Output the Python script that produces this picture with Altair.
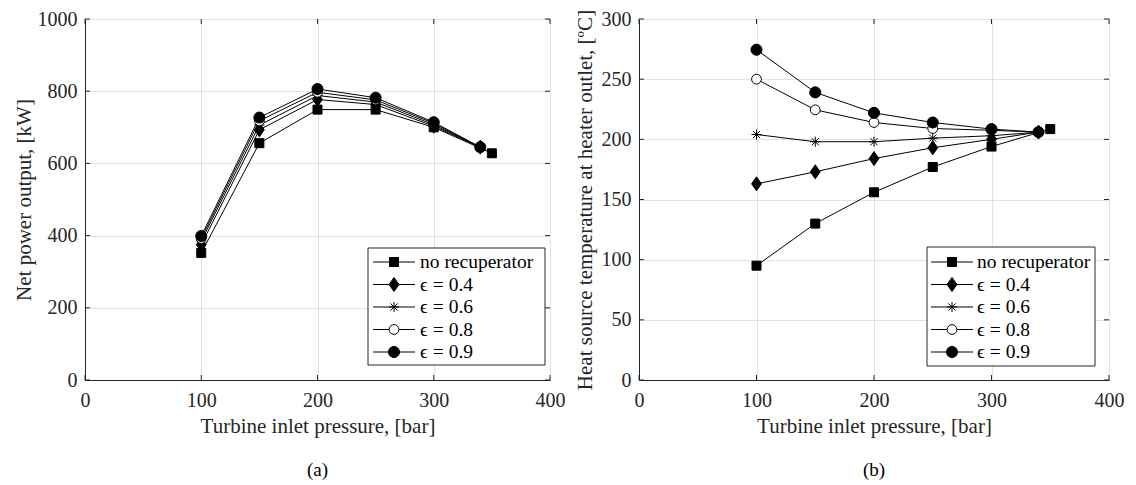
import altair as alt
import pandas as pd

# ---------------- data ----------------
SERIES = ["no recuperator", "ϵ = 0.4", "ϵ = 0.6", "ϵ = 0.8", "ϵ = 0.9"]
P_NOREC = [100, 150, 200, 250, 300, 350]
P_EPS = [100, 150, 200, 250, 300, 340]

POWER_NOREC = [352, 656, 749, 749, 700, 628]
POWER_04 = [375, 693, 777, 763, 703, 645]
POWER_06 = [385, 706, 788, 770, 707, 645]
POWER_08 = [392, 718, 797, 776, 711, 645]
POWER_09 = [399, 727, 806, 782, 714, 645]

TEMP_NOREC = [95, 130, 156, 177, 194, 208.5]
TEMP_04 = [163, 173, 184, 193, 200, 206]
TEMP_06 = [204, 198, 198, 201, 203, 206]
TEMP_08 = [250, 224.5, 214, 209, 207.5, 206]
TEMP_09 = [274.5, 239, 222, 214, 208.5, 206]

X_TICKS = [0, 100, 200, 300, 400]
POWER_TICKS = [0, 200, 400, 600, 800, 1000]
TEMP_TICKS = [0, 50, 100, 150, 200, 250, 300]

FONT = "Liberation Serif"
DARK = "#262626"

# marker shapes (unit square paths, drawn at a common size)
SQ = 0.643
SHAPE_RANGE = [
    f"M{-SQ},{-SQ}L{SQ},{-SQ}L{SQ},{SQ}L{-SQ},{SQ}Z",
    "M0,-1L0.7,0L0,1L-0.7,0Z",
    "M0,-0.72L0,0.72M-0.72,0L0.72,0M-0.51,-0.51L0.51,0.51M-0.51,0.51L0.51,-0.51",
    "M0.7,0A0.7,0.7,0,1,1,-0.7,0A0.7,0.7,0,1,1,0.7,0Z",
    "M0.79,0A0.79,0.79,0,1,1,-0.79,0A0.79,0.79,0,1,1,0.79,0Z",
]
FILL_RANGE = ["black", "black", "black", "white", "black"]
MARK_SIZE = 196


def long_df(cols):
    rows = []
    for name, xs, ys in cols:
        for xv, yv in zip(xs, ys):
            rows.append({"series": name, "x": xv, "y": yv})
    return pd.DataFrame(rows)


power_df = long_df([
    (SERIES[0], P_NOREC, POWER_NOREC),
    (SERIES[1], P_EPS, POWER_04),
    (SERIES[2], P_EPS, POWER_06),
    (SERIES[3], P_EPS, POWER_08),
    (SERIES[4], P_EPS, POWER_09),
])
temp_df = long_df([
    (SERIES[0], P_NOREC, TEMP_NOREC),
    (SERIES[1], P_EPS, TEMP_04),
    (SERIES[2], P_EPS, TEMP_06),
    (SERIES[3], P_EPS, TEMP_08),
    (SERIES[4], P_EPS, TEMP_09),
])

shape_enc = alt.Shape("series:N", scale=alt.Scale(domain=SERIES, range=SHAPE_RANGE), legend=None)
fill_enc = alt.Fill("series:N", scale=alt.Scale(domain=SERIES, range=FILL_RANGE), legend=None)


def panel(df, y_title, y_domain, y_ticks, W, H, y_title_pad, leg, caption):
    xenc = alt.X(
        "x:Q",
        scale=alt.Scale(domain=[0, 400], nice=False, zero=False),
        axis=alt.Axis(values=X_TICKS, title="Turbine inlet pressure, [bar]", format="d",
                      labelPadding=10, titlePadding=5, labelFlush=False),
    )
    yenc = alt.Y(
        "y:Q",
        scale=alt.Scale(domain=y_domain, nice=False, zero=False),
        axis=alt.Axis(values=y_ticks, title=y_title, format="d",
                      labelPadding=8, titlePadding=y_title_pad, labelFlush=False),
    )
    xt = pd.DataFrame({"x": X_TICKS})
    yt = pd.DataFrame({"y": y_ticks})
    tick_b = alt.Chart(xt).mark_rule(color=DARK).encode(x=xenc, y=alt.value(H), y2=alt.value(H - 5))
    tick_t = alt.Chart(xt).mark_rule(color=DARK).encode(x=xenc, y=alt.value(0), y2=alt.value(5))
    tick_l = alt.Chart(yt).mark_rule(color=DARK).encode(y=yenc, x=alt.value(0), x2=alt.value(5))
    tick_r = alt.Chart(yt).mark_rule(color=DARK).encode(y=yenc, x=alt.value(W - 5), x2=alt.value(W))

    lines = alt.Chart(df).mark_line(color="black", strokeWidth=1).encode(
        x=xenc, y=yenc, detail="series:N"
    )
    pts = alt.Chart(df).mark_point(opacity=1, stroke="black", strokeWidth=1,
                                   size=MARK_SIZE, fillOpacity=1).encode(
        x=xenc, y=yenc, shape=shape_enc, fill=fill_enc
    )
    main = alt.layer(tick_b, tick_t, tick_l, tick_r, lines, pts)

    ldf = pd.DataFrame({"series": SERIES})
    ly = alt.Y("series:N", scale=alt.Scale(type="point", domain=SERIES,
                                          range=[leg["r0"], leg["r1"]], padding=0), axis=None)
    box = alt.Chart(pd.DataFrame({"a": [0]})).mark_rect(
        fill="white", stroke=DARK, strokeWidth=1
    ).encode(x=alt.value(leg["bx0"]), x2=alt.value(leg["bx1"]),
             y=alt.value(leg["by0"]), y2=alt.value(leg["by1"]))
    lrule = alt.Chart(ldf).mark_rule(color="black", strokeWidth=1).encode(
        x=alt.value(leg["lx"]), x2=alt.value(leg["lx"] + 42), y=ly
    )
    lpts = alt.Chart(ldf).mark_point(opacity=1, stroke="black", strokeWidth=1,
                                     size=MARK_SIZE, fillOpacity=1).encode(
        x=alt.value(leg["lx"] + 21), y=ly, shape=shape_enc, fill=fill_enc
    )
    ltext = alt.Chart(ldf).mark_text(align="left", baseline="middle", font=FONT,
                                     fontSize=19.5, color="black").encode(
        x=alt.value(leg["tx"]), y=ly, text="series:N"
    )
    legend = alt.layer(box, lrule, lpts, ltext)

    return alt.layer(main, legend).resolve_scale(y="independent").properties(
        width=W, height=H,
        title=alt.TitleParams(caption, orient="bottom", anchor="middle", frame="group",
                              offset=25, font=FONT, fontSize=19, fontWeight="normal",
                              color="black"),
    )


H = 361
left = panel(power_df, "Net power output, [kW]", [0, 1000], POWER_TICKS, 465, H, 3,
             dict(r0=243, r1=333, bx0=283, bx1=460, by0=229, by1=346, lx=288, tx=335), "(a)")
right = panel(temp_df, "Heat source temperature at heater outlet, [ºC]", [0, 300], TEMP_TICKS,
              470, H, 6,
              dict(r0=243, r1=333, bx0=288, bx1=456, by0=228, by1=347, lx=292, tx=338), "(b)")

chart = alt.hconcat(left, right, spacing=7).properties(
    padding={"left": 4, "top": 0, "right": 0, "bottom": 0}
).configure_view(stroke=DARK, strokeWidth=1).configure_axis(
    domainColor=DARK, domainWidth=1, gridColor="#e2e2e2", gridWidth=1,
    ticks=False, tickSize=0,
    labelFont=FONT, labelFontSize=20, labelColor=DARK,
    titleFont=FONT, titleFontSize=21, titleFontWeight="normal", titleColor=DARK,
)

chart.save("out.html", embed_options={"renderer": "svg", "actions": False})
